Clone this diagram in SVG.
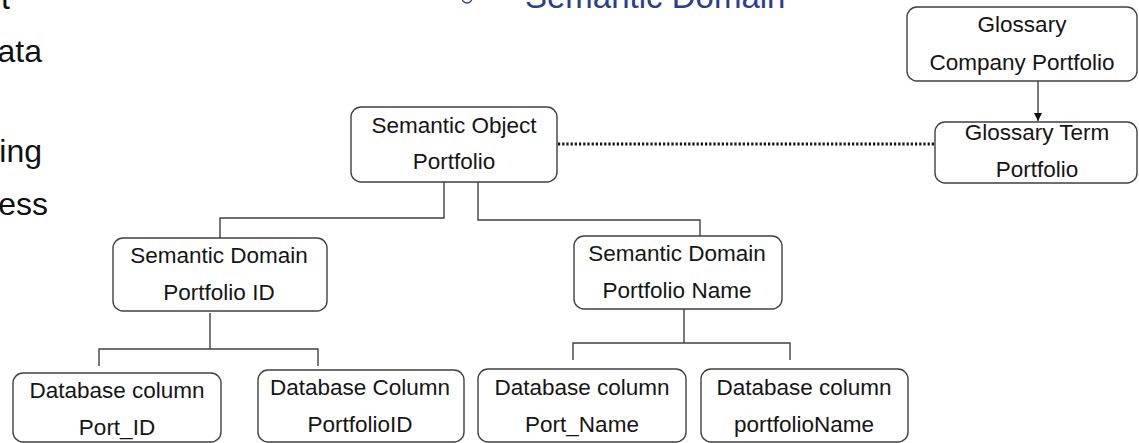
<svg xmlns="http://www.w3.org/2000/svg" width="1139" height="443" viewBox="0 0 1139 443">
<style>
.node rect{fill:#fff;stroke:#404040;stroke-width:1.4}
.node text{font-family:"Liberation Sans",Arial,sans-serif;font-size:22.5px;fill:#151515;text-anchor:middle}
.conn{fill:none;stroke:#404040;stroke-width:1.4}
.dot{fill:none;stroke:#111;stroke-width:3;stroke-dasharray:2.2 2}
.side{font-family:"Liberation Sans",Arial,sans-serif;font-size:32px;fill:#111;text-anchor:end}
.head{font-family:"Liberation Sans",Arial,sans-serif;font-size:33px;fill:#2c3c8e}
</style>
<defs>
<marker id="arr" markerWidth="10" markerHeight="10" refX="9" refY="5" orient="auto" markerUnits="userSpaceOnUse">
<path d="M1,1 L9,5 L1,9 Z" fill="#111"/>
</marker>
</defs>
<rect width="1139" height="443" fill="#fff"/>
<g id="background-text">
<text class="side" x="10" y="9">t</text>
<text class="side" x="42" y="62">ata</text>
<text class="side" x="42" y="162">ing</text>
<text class="side" x="48" y="215">ess</text>
<circle cx="467" cy="-2" r="5" fill="none" stroke="#2c3c8e" stroke-width="1.3"/>
<text class="head" x="525" y="8">Semantic Domain</text>
</g>
<g id="connectors">
<path class="dot" d="M558,144 H934"/>
<path class="conn" d="M1038,81 V121" marker-end="url(#arr)"/>
<path class="conn" d="M444,182 V218 H220 V238"/>
<path class="conn" d="M478,182 V220 H700 V236"/>
<path class="conn" d="M210,313 V349 M99,366 V349 H318 V366"/>
<path class="conn" d="M684,309 V343 M573,360 V343 H790 V360"/>
</g>
<g id="glossary" class="node">
<rect x="907" y="7" width="230" height="74" rx="10"/>
<text x="1022" y="32">Glossary</text>
<text x="1022" y="70">Company Portfolio</text>
</g>
<g id="glossary-term" class="node">
<rect x="935" y="122" width="202" height="61" rx="10"/>
<text x="1037" y="140">Glossary Term</text>
<text x="1037" y="177">Portfolio</text>
</g>
<g id="semantic-object" class="node">
<rect x="351" y="107" width="206" height="75" rx="10"/>
<text x="454" y="133">Semantic Object</text>
<text x="454" y="169">Portfolio</text>
</g>
<g id="domain-id" class="node">
<rect x="113" y="238" width="214" height="73" rx="10"/>
<text x="219" y="263">Semantic Domain</text>
<text x="219" y="300">Portfolio ID</text>
</g>
<g id="domain-name" class="node">
<rect x="574" y="236" width="208" height="73" rx="10"/>
<text x="677" y="261">Semantic Domain</text>
<text x="677" y="298">Portfolio Name</text>
</g>
<g id="col-port-id" class="node">
<rect x="13" y="373" width="208" height="69" rx="10"/>
<text x="117" y="398">Database column</text>
<text x="117" y="435">Port_ID</text>
</g>
<g id="col-portfolioid" class="node">
<rect x="258" y="370" width="206" height="72" rx="10"/>
<text x="360" y="395">Database Column</text>
<text x="360" y="432">PortfolioID</text>
</g>
<g id="col-port-name" class="node">
<rect x="478" y="369" width="208" height="73" rx="10"/>
<text x="582" y="395">Database column</text>
<text x="582" y="432">Port_Name</text>
</g>
<g id="col-portfolioname" class="node">
<rect x="701" y="369" width="207" height="73" rx="10"/>
<text x="804" y="395">Database column</text>
<text x="804" y="432">portfolioName</text>
</g>
</svg>
